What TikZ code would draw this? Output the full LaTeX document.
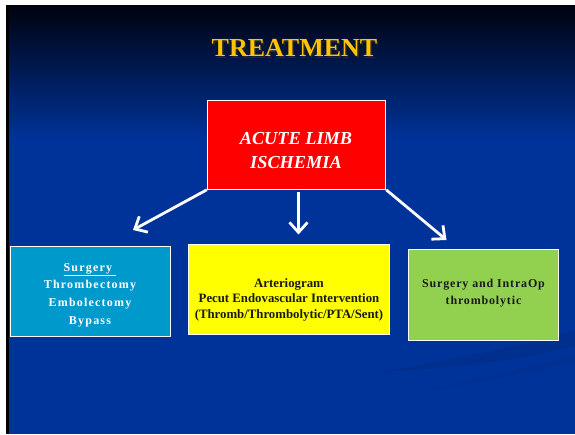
\documentclass[tikz,border=0pt]{standalone}
\usepackage{fontspec}
\setmainfont{Liberation Serif}
\newfontfamily\spacedA[LetterSpace=10]{Liberation Serif}
\newfontfamily\spacedB[LetterSpace=7]{Liberation Serif}
\usetikzlibrary{arrows.meta}
\definecolor{slideblue}{HTML}{003399}
\definecolor{topnavy}{HTML}{00020F}
\definecolor{titlegold}{HTML}{FFC400}
\definecolor{limbred}{HTML}{FF0000}
\definecolor{surgblue}{HTML}{0099CC}
\definecolor{artyellow}{HTML}{FFFF00}
\definecolor{opgreen}{HTML}{92D050}
\definecolor{darktext}{HTML}{1A1A1A}
\begin{document}
\begin{tikzpicture}[x=1pt,y=-1pt,
  box/.style={draw=white, line width=1pt, inner sep=0pt},
  arr/.style={draw=white, line width=2.8pt, -{Straight Barb[length=10pt,width=18pt,line width=2.8pt]}}]
\useasboundingbox (0,0) rectangle (575,434);
\fill[white] (0,0) rectangle (575,434);
\shade[top color=topnavy, bottom color=slideblue] (9,5) rectangle (575,140);
\fill[slideblue] (9,139.5) rectangle (575,434);
\fill[black] (6,5) rectangle (9,434);
% faint swooshes
\fill[black, opacity=0.07] (380,372) .. controls (470,356) and (530,344) .. (575,330) -- (575,346) .. controls (520,360) and (460,368) .. (380,372) -- cycle;
\fill[black, opacity=0.05] (420,392) .. controls (490,376) and (540,364) .. (575,355) -- (575,363) .. controls (530,372) and (480,382) .. (420,392) -- cycle;
% title
\node[font=\bfseries\fontsize{26}{30}\selectfont, text=black!85] (titleshadow) at (296,49.5) {TREATMENT};
\node[font=\bfseries\fontsize{26}{30}\selectfont, text=titlegold] (title) at (294.5,48) {TREATMENT};
% boxes
\node[box, fill=limbred, minimum width=178.4pt, minimum height=89.3pt] (limb) at (296.5,144.65) {};
\node[box, fill=surgblue, minimum width=160.5pt, minimum height=90pt] (surg) at (90.25,291.65) {};
\node[box, fill=artyellow, minimum width=201pt, minimum height=89.7pt] (arterio) at (288.9,289.55) {};
\node[box, fill=opgreen, minimum width=150pt, minimum height=90.7pt] (intraop) at (483.4,294.65) {};
% texts
\node[text=white, align=center, font=\bfseries\itshape\fontsize{18.3}{24.3}\selectfont] (limbtext) at (296,150.2) {ACUTE LIMB\\ISCHEMIA};
\node[text=white, align=center, font=\spacedA\bfseries\fontsize{12}{17.5}\selectfont] (surgtext) at (90,295.5) {\underline{Surgery~}\\Thrombectomy\\Embolectomy\\[1pt]Bypass};
\node[text=darktext, align=center, font=\bfseries\fontsize{12.8}{15.5}\selectfont] (artertext) at (289,299.6) {Arteriogram\\Pecut Endovascular Intervention\\(Thromb/Thrombolytic/PTA/Sent)};
\node[text=darktext, align=center, font=\spacedB\bfseries\fontsize{12}{17}\selectfont] (intraoptext) at (483.5,293.4) {Surgery and IntraOp\\thrombolytic};
% arrows
\coordinate (tipL) at (133,230);
\coordinate (tipM) at (298.5,234.5);
\coordinate (tipR) at (446.5,240);
\draw[arr] (limb.south west) -- (tipL);
\draw[arr] (tipM |- limb.south) ++(0,2) -- (tipM);
\draw[arr] (limb.south east) -- (tipR);
\end{tikzpicture}
\end{document}
